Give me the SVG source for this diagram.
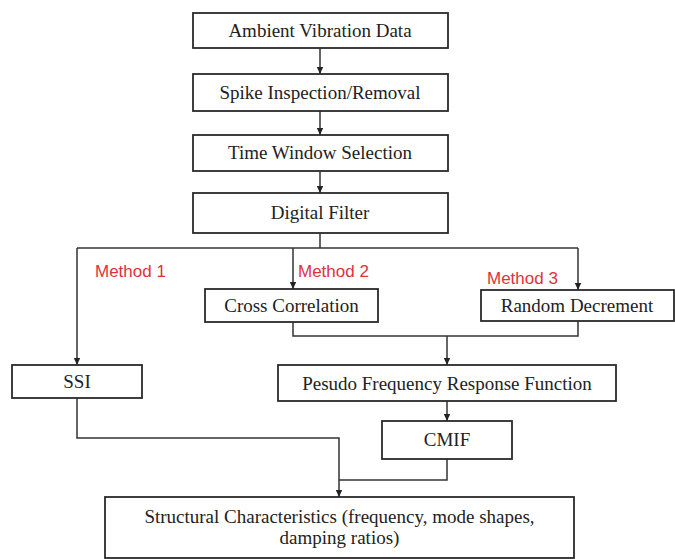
<svg xmlns="http://www.w3.org/2000/svg" width="675" height="559" viewBox="0 0 675 559">
<defs>
<marker id="arr" markerUnits="userSpaceOnUse" markerWidth="8" markerHeight="8" refX="7" refY="4" orient="auto">
<path d="M0,0.8 L7,4 L0,7.2 Z" fill="#222"/>
</marker>
<style>
.box{fill:#fff;stroke:#2a2a2a;stroke-width:1.8}
.t{font-family:"Liberation Serif","Times New Roman",serif;font-size:19px;fill:#222;text-anchor:middle}
.m{font-family:"Liberation Sans",Arial,sans-serif;font-size:17px;fill:#e0323c}
.c{fill:none;stroke:#333;stroke-width:1.5}
</style>
</defs>
<rect width="675" height="559" fill="#fff"/>
<g id="connectors">
<path class="c" d="M320,48 V74" marker-end="url(#arr)"/>
<path class="c" d="M320,111 V135" marker-end="url(#arr)"/>
<path class="c" d="M320,171 V193" marker-end="url(#arr)"/>
<path class="c" d="M320,233 V248"/>
<path class="c" d="M77,248 H578"/>
<path class="c" d="M77,248 V365" marker-end="url(#arr)"/>
<path class="c" d="M293,248 V289" marker-end="url(#arr)"/>
<path class="c" d="M578,248 V290" marker-end="url(#arr)"/>
<path class="c" d="M293,322 V336 H578 V321"/>
<path class="c" d="M447,336 V365" marker-end="url(#arr)"/>
<path class="c" d="M447,401 V421" marker-end="url(#arr)"/>
<path class="c" d="M77,398 V438 H339 V497" marker-end="url(#arr)"/>
<path class="c" d="M447,459 V480 H339"/>
</g>
<g id="ambient"><rect class="box" x="193" y="13" width="255" height="35"/><text class="t" x="320" y="37">Ambient Vibration Data</text></g>
<g id="spike"><rect class="box" x="193" y="74" width="255" height="37"/><text class="t" x="320" y="99">Spike Inspection/Removal</text></g>
<g id="timewindow"><rect class="box" x="193" y="135" width="255" height="36"/><text class="t" x="320" y="159">Time Window Selection</text></g>
<g id="filter"><rect class="box" x="193" y="193" width="255" height="40"/><text class="t" x="320" y="219">Digital Filter</text></g>
<g id="labels">
<text class="m" x="95" y="277">Method 1</text>
<text class="m" x="298" y="277">Method 2</text>
<text class="m" x="487" y="284">Method 3</text>
</g>
<g id="cross"><rect class="box" x="205" y="289" width="173" height="33"/><text class="t" x="291.5" y="312">Cross Correlation</text></g>
<g id="random"><rect class="box" x="481" y="290" width="193" height="31"/><text class="t" x="577" y="312">Random Decrement</text></g>
<g id="ssi"><rect class="box" x="12" y="365" width="130" height="33"/><text class="t" x="77" y="388">SSI</text></g>
<g id="pfrf"><rect class="box" x="278" y="365" width="338" height="36"/><text class="t" x="447" y="390">Pesudo Frequency Response Function</text></g>
<g id="cmif"><rect class="box" x="382" y="421" width="130" height="38"/><text class="t" x="447" y="446">CMIF</text></g>
<g id="structural"><rect class="box" x="105" y="497" width="469" height="61"/><text class="t" x="339.5" y="523" font-size="19.4">Structural Characteristics (frequency, mode shapes,</text><text class="t" x="339.5" y="544" font-size="19.4">damping ratios)</text></g>
</svg>
